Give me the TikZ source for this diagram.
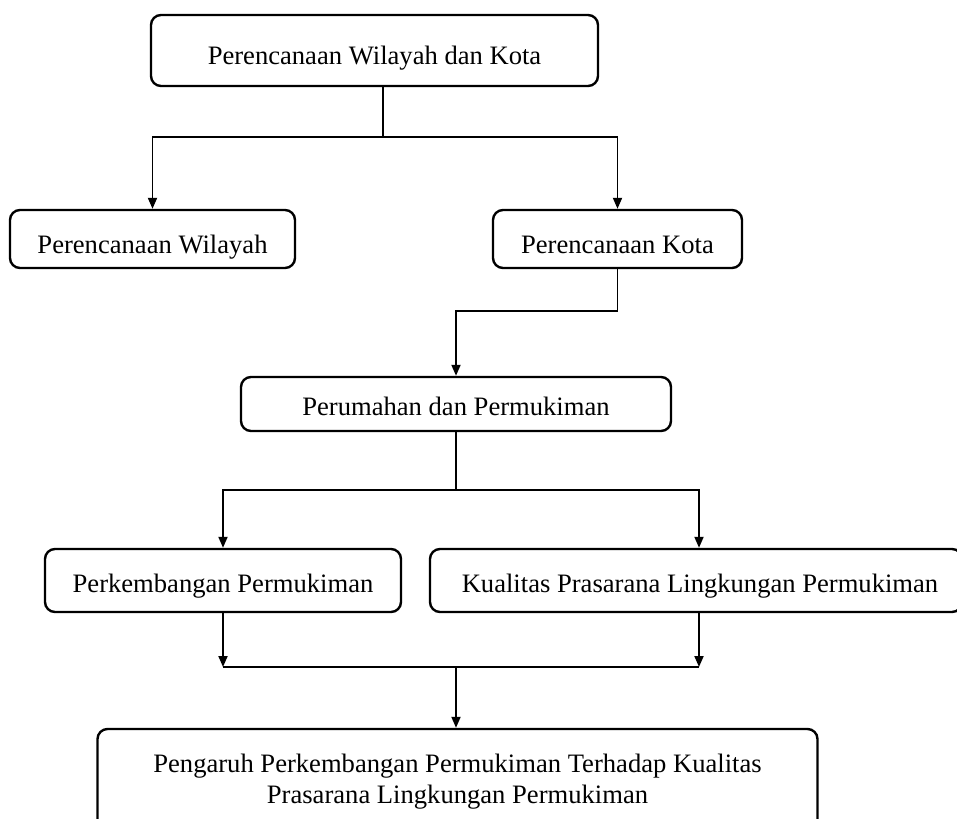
\documentclass[tikz,border=0pt]{standalone}
\usepackage{fontspec}
\setmainfont{Liberation Serif}
\usetikzlibrary{arrows.meta,calc}
\begin{document}
\begin{tikzpicture}[x=1pt,y=-1pt,
  box/.style={draw=black,line width=2.4pt,rounded corners=10pt,inner sep=0pt,
    font=\fontsize{26.6}{31}\selectfont,align=center},
  bl/.style={text height=#1,text depth=0pt},
  conn/.style={draw=black,line width=1.9pt},
  arr/.style={conn,-{Triangle[length=11pt,width=9pt]}}]
\useasboundingbox[fill=white] (0,0) rectangle (957,818);
% boxes
\node[box,bl=29pt,minimum width=447pt,minimum height=71pt] (top) at (374.5,50.5) {Perencanaan Wilayah dan Kota};
\node[box,bl=28pt,minimum width=285pt,minimum height=58pt] (wil) at (152.5,239) {Perencanaan Wilayah};
\node[box,bl=28pt,minimum width=249pt,minimum height=58pt] (kota) at (617.5,239) {Perencanaan Kota};
\node[box,bl=22pt,minimum width=430pt,minimum height=54pt] (perum) at (456,404) {Perumahan dan Permukiman};
\node[box,bl=23pt,minimum width=356pt,minimum height=63pt] (perk) at (223,580.5) {Perkembangan Permukiman};
\node[box,bl=23pt,minimum width=532pt,minimum height=63pt] (kual) at (696,580.5) {\hspace*{8pt}Kualitas Prasarana Lingkungan Permukiman};
\node[box,minimum width=720pt,minimum height=105pt] (bot) at (457.5,781.5) {Pengaruh Perkembangan Permukiman Terhadap Kualitas\\Prasarana Lingkungan Permukiman};
% connectors
\coordinate (j1) at (383,137);
\draw[conn] (top.south -| j1) -- (j1);
\draw[arr] (j1) -| (wil.north);
\draw[arr] (j1) -| (kota.north);
\coordinate (j2) at (617.5,311);
\draw[arr] (kota.south) -- (j2) -| (perum.north);
\coordinate (j3) at (456,490);
\coordinate (kx) at (699,0);
\draw[conn] (perum.south) -- (j3);
\draw[arr] (j3) -| (perk.north);
\draw[arr] (j3) -| (kual.north -| kx);
\coordinate (j4) at (456,667);
\draw[arr] (perk.south) -- (perk.south |- j4);
\draw[arr] (kual.south -| kx) -- (kx |- j4);
\draw[conn] (perk.south |- j4) -- (kx |- j4);
\draw[arr] (j4) -- (bot.north -| j4);
\end{tikzpicture}
\end{document}
